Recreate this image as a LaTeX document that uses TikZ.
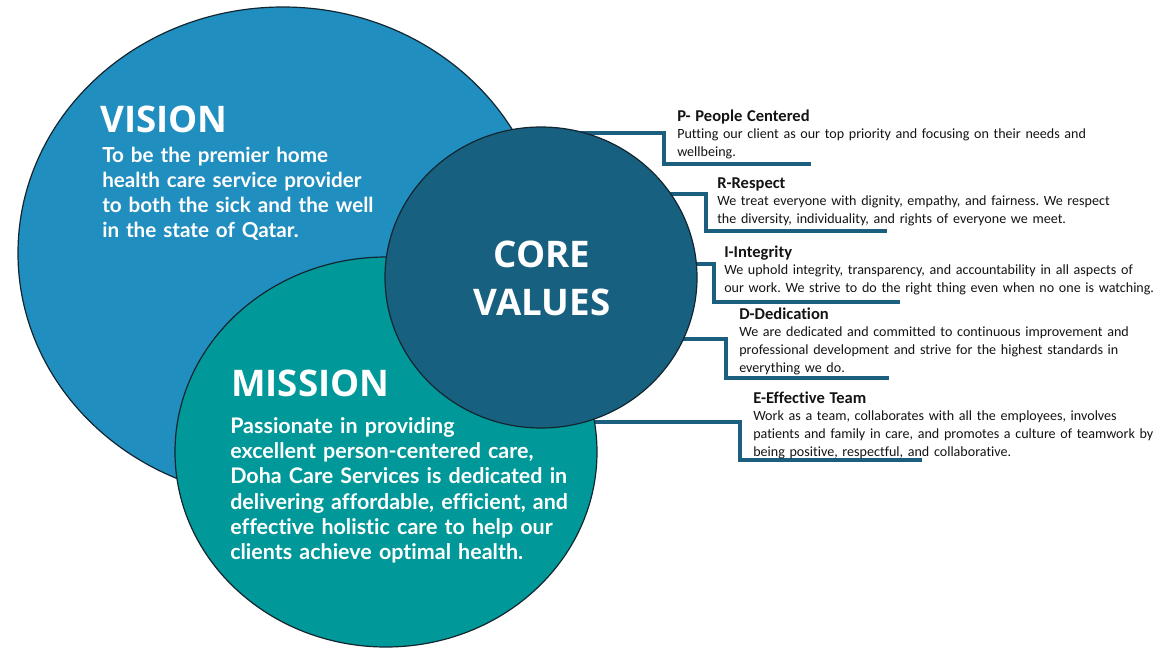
\documentclass[tikz,border=0pt]{standalone}
\usepackage{fontspec}
\setmainfont{Carlito}[Ligatures=NoCommon]
\newfontfamily\circfont{Open Sans}
\newfontfamily\circbody{Lato}[Ligatures=NoCommon]
\usetikzlibrary{shapes.geometric}
\pgfdeclarelayer{bg}
\pgfsetlayers{bg,main}
\definecolor{visionc}{RGB}{33,142,192}
\definecolor{missionc}{RGB}{0,152,152}
\definecolor{corec}{RGB}{23,96,128}
\definecolor{outl}{RGB}{18,38,48}
\definecolor{linkc}{RGB}{28,94,126}
\definecolor{txt}{RGB}{20,20,20}
\newcommand\valheadfont{\bfseries\fontsize{12.4}{13.3}\selectfont}
\begin{document}
\frenchspacing
\begin{tikzpicture}[x=0.75pt,y=-0.75pt,
  circ/.style={ellipse, draw=outl, line width=0.9pt, inner sep=0pt, outer sep=0pt},
  bigtitle/.style={text=white, inner sep=0pt, font=\circfont\bfseries\fontsize{27.5}{27.5}\selectfont, anchor=base west},
  circtext/.style={text=white, inner sep=0pt, align=left, anchor=base west, text width=330pt,
     font=\circbody\bfseries\fontsize{15.5}{18.8}\selectfont},
  valtext/.style={text=txt, inner sep=0pt, align=left, anchor=base west, text width=360pt,
     font=\frenchspacing\fontsize{10.55}{13.3}\selectfont},
  link/.style={draw=linkc, line width=2.4pt, line join=miter}
]
\useasboundingbox (0,0) rectangle (1168,657);

% circles
\node[circ, fill=visionc, minimum width=397.5pt, minimum height=369pt] (vision) at (283,253) {};
\node[circ, fill=missionc, minimum width=316.5pt, minimum height=292.5pt] (mission) at (386,452) {};
\node[circ, fill=corec, minimum width=234pt, minimum height=225.75pt] (core) at (541,277.5) {};

% circle texts
\node[bigtitle] (visiont) at (100,132) {VISION};
\node[circtext] (visionb) at (102,162) {To be the premier home\\health care service provider\\to both the sick and the well\\in the state of Qatar.};
\node[bigtitle] (missiont) at (231,396) {MISSION};
\node[circtext, font=\circbody\bfseries\fontsize{16.1}{19}\selectfont] (missionb) at (230,433) {Passionate in providing\\excellent person-centered care,\\Doha Care Services is dedicated in\\delivering affordable, efficient, and\\effective holistic care to help our\\clients achieve optimal health.};
\node[text=white, inner sep=0pt, align=center, font=\circfont\bfseries\fontsize{27.5}{36}\selectfont, anchor=base] (coret) at (542,315) {CORE\\VALUES};

% value texts
\node[valtext] (pt) at (677,121) {{\valheadfont P- People Centered}\\Putting our client as our top priority and focusing on their needs and\\wellbeing.};
\node[valtext] (rt) at (717,188) {{\valheadfont R-Respect}\\We treat everyone with dignity, empathy, and fairness. We respect\\the diversity, individuality, and rights of everyone we meet.};
\node[valtext] (it) at (724,257) {{\valheadfont I-Integrity}\\We uphold integrity, transparency, and accountability in all aspects of\\our work. We strive to do the right thing even when no one is watching.};
\node[valtext] (dt) at (739,319) {{\valheadfont D-Dedication}\\We are dedicated and committed to continuous improvement and\\professional development and strive for the highest standards in\\everything we do.};
\node[valtext] (et) at (753,403) {{\valheadfont E-Effective Team}\\Work as a team, collaborates with all the employees, involves\\patients and family in care, and promotes a culture of teamwork by\\being positive, respectful, and collaborative.};

% connector corners
\coordinate (pk) at (664,133);  \coordinate (pu) at (811,164);
\coordinate (rk) at (706,194);  \coordinate (ru) at (887,231);
\coordinate (ik) at (714,264);  \coordinate (iu) at (900,302);
\coordinate (dk) at (726,339);  \coordinate (du) at (889,378);
\coordinate (ek) at (740,422);  \coordinate (eu) at (922,460);

\begin{pgfonlayer}{bg}
\fill[white] (0,0) rectangle (1168,657);
\draw[link] (core.center |- pk) -- (pk) |- (pu);
\draw[link] (core.center |- rk) -- (rk) |- (ru);
\draw[link] (core.center |- ik) -- (ik) |- (iu);
\draw[link] (core.center |- dk) -- (dk) |- (du);
\draw[link] (core.center |- ek) -- (ek) |- (eu);
\end{pgfonlayer}
\end{tikzpicture}
\end{document}
